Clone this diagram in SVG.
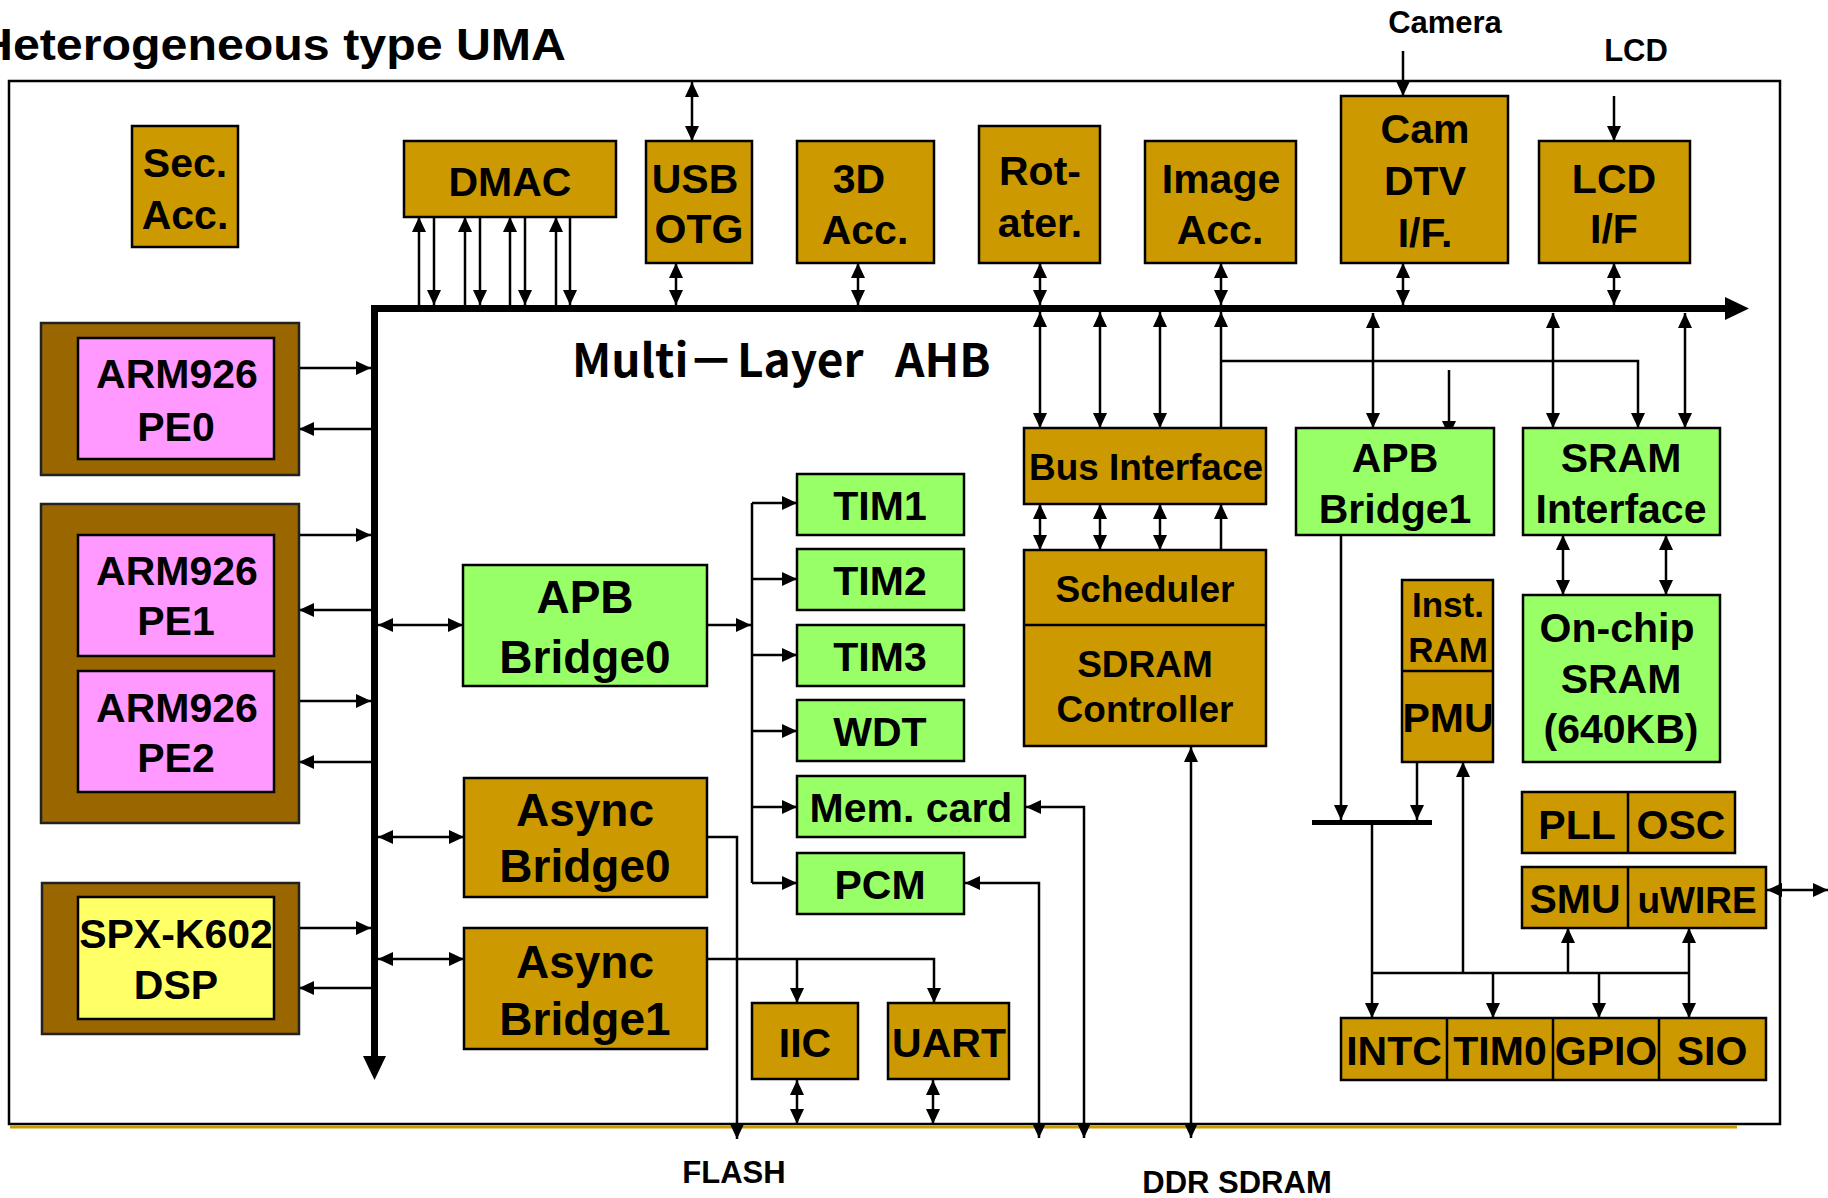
<svg xmlns="http://www.w3.org/2000/svg" width="1828" height="1198" viewBox="0 0 1828 1198">
<style>
.t{font-family:"Liberation Sans",Arial,Helvetica,sans-serif;font-weight:bold;text-anchor:middle;fill:#000}
.f41{font-size:41px}
.f46{font-size:46px}
.f37{font-size:37px}
.f35{font-size:35px}
.f31{font-size:31px}
.gold{fill:#CC9900;stroke:#000;stroke-width:2.5}
.green{fill:#99FF66;stroke:#000;stroke-width:2.5}
.pink{fill:#FF99FF;stroke:#000;stroke-width:2.5}
.brown{fill:#996600;stroke:#222;stroke-width:2.5}
.yellow{fill:#FFFF66;stroke:#000;stroke-width:2.5}
.dv{stroke:#000;stroke-width:2.5}
.c{fill:none;stroke:#000;stroke-width:2.5}
.a{marker-end:url(#ah)}
.d{marker-start:url(#ah);marker-end:url(#ah)}
.bus{fill:none;stroke:#000;stroke-width:7;stroke-linejoin:miter;marker-start:url(#bh);marker-end:url(#bh)}
</style>
<defs>
<marker id="ah" markerUnits="userSpaceOnUse" markerWidth="15" markerHeight="14" refX="15" refY="7" orient="auto-start-reverse" viewBox="0 0 15 14"><path d="M0,0 L15,7 L0,14 z" fill="#000"/></marker>
<marker id="bh" markerUnits="userSpaceOnUse" markerWidth="24" markerHeight="23" refX="0" refY="11.5" orient="auto-start-reverse" viewBox="0 0 24 23"><path d="M0,0 L24,11.5 L0,23 z" fill="#000"/></marker>
</defs>
<rect width="1828" height="1198" fill="#fff"/>
<g id="frame">
<rect x="9" y="81" width="1771" height="1043" fill="none" stroke="#000" stroke-width="2.5"/>
<line x1="10" y1="1127" x2="1737" y2="1127" stroke="#CC9900" stroke-width="3"/>
</g>
<text id="title" x="-22" y="60" font-family="Liberation Sans, Arial, sans-serif" font-weight="bold" font-size="44" textLength="588" lengthAdjust="spacingAndGlyphs">Heterogeneous type UMA</text>
<g id="labels" class="t f31">
<text x="1445" y="33">Camera</text>
<text x="1636" y="61">LCD</text>
<text x="734" y="1183">FLASH</text>
<text x="1237" y="1193">DDR SDRAM</text>
</g>
<text id="bus-label" y="377" font-family="'Noto Sans CJK JP', 'Noto Sans', sans-serif" font-weight="bold" font-size="46" fill="#000"><tspan x="572">Multi</tspan><tspan x="688">－</tspan><tspan x="737">Layer</tspan><tspan x="895">AHB</tspan></text>

<g id="connectors">
<path class="bus" d="M374.5,1056 L374.5,308.5 L1725,308.5"/>
<!-- DMAC -->
<line class="c a" x1="419" y1="305" x2="419" y2="217"/>
<line class="c a" x1="434" y1="217" x2="434" y2="305"/>
<line class="c a" x1="465" y1="305" x2="465" y2="217"/>
<line class="c a" x1="480" y1="217" x2="480" y2="305"/>
<line class="c a" x1="510" y1="305" x2="510" y2="217"/>
<line class="c a" x1="525" y1="217" x2="525" y2="305"/>
<line class="c a" x1="556" y1="305" x2="556" y2="217"/>
<line class="c a" x1="570" y1="217" x2="570" y2="305"/>
<!-- top row -->
<line class="c d" x1="692" y1="82" x2="692" y2="141"/>
<line class="c d" x1="676" y1="263" x2="676" y2="305"/>
<line class="c d" x1="858" y1="263" x2="858" y2="305"/>
<line class="c d" x1="1040" y1="263" x2="1040" y2="305"/>
<line class="c d" x1="1221" y1="263" x2="1221" y2="305"/>
<line class="c d" x1="1403" y1="263" x2="1403" y2="305"/>
<line class="c a" x1="1403" y1="51" x2="1403" y2="96"/>
<line class="c d" x1="1614" y1="263" x2="1614" y2="305"/>
<line class="c a" x1="1614" y1="96" x2="1614" y2="141"/>
<!-- below bus -->
<line class="c d" x1="1040" y1="312" x2="1040" y2="428"/>
<line class="c d" x1="1100" y1="312" x2="1100" y2="428"/>
<line class="c d" x1="1160" y1="312" x2="1160" y2="428"/>
<line class="c a" x1="1221" y1="428" x2="1221" y2="312"/>
<path class="c a" d="M1221,361 H1638 V428"/>
<line class="c d" x1="1373" y1="313" x2="1373" y2="428"/>
<line class="c a" x1="1449" y1="370" x2="1449" y2="436"/>
<line class="c d" x1="1553" y1="313" x2="1553" y2="428"/>
<line class="c d" x1="1685" y1="313" x2="1685" y2="428"/>
<line class="c d" x1="1040" y1="504" x2="1040" y2="550"/>
<line class="c d" x1="1100" y1="504" x2="1100" y2="550"/>
<line class="c d" x1="1160" y1="504" x2="1160" y2="550"/>
<line class="c a" x1="1221" y1="550" x2="1221" y2="504"/>
<line class="c d" x1="1563" y1="535" x2="1563" y2="595"/>
<line class="c d" x1="1666" y1="535" x2="1666" y2="595"/>
<!-- APB1 / PMU / peripherals -->
<line class="c a" x1="1341" y1="535" x2="1341" y2="820"/>
<line class="c a" x1="1417" y1="762" x2="1417" y2="820"/>
<line x1="1312" y1="822.5" x2="1432" y2="822.5" stroke="#000" stroke-width="5"/>
<line class="c a" x1="1372" y1="825" x2="1372" y2="1018"/>
<line class="c" x1="1372" y1="973" x2="1689" y2="973"/>
<line class="c a" x1="1463" y1="973" x2="1463" y2="762"/>
<line class="c a" x1="1493" y1="973" x2="1493" y2="1018"/>
<line class="c a" x1="1599" y1="973" x2="1599" y2="1018"/>
<line class="c a" x1="1568" y1="973" x2="1568" y2="928"/>
<line class="c d" x1="1689" y1="928" x2="1689" y2="1018"/>
<line class="c d" x1="1767" y1="890" x2="1828" y2="890"/>
<!-- left side -->
<line class="c a" x1="299" y1="368" x2="371" y2="368"/>
<line class="c a" x1="371" y1="429" x2="299" y2="429"/>
<line class="c a" x1="299" y1="535" x2="371" y2="535"/>
<line class="c a" x1="371" y1="610" x2="299" y2="610"/>
<line class="c a" x1="299" y1="701" x2="371" y2="701"/>
<line class="c a" x1="371" y1="762" x2="299" y2="762"/>
<line class="c a" x1="299" y1="928" x2="371" y2="928"/>
<line class="c a" x1="371" y1="988" x2="299" y2="988"/>
<line class="c d" x1="378" y1="625" x2="463" y2="625"/>
<line class="c d" x1="378" y1="837" x2="464" y2="837"/>
<line class="c d" x1="378" y1="959" x2="464" y2="959"/>
<!-- APB0 tree -->
<line class="c a" x1="707" y1="625" x2="751" y2="625"/>
<line class="c" x1="752" y1="503" x2="752" y2="883"/>
<line class="c a" x1="752" y1="503" x2="797" y2="503"/>
<line class="c a" x1="752" y1="579" x2="797" y2="579"/>
<line class="c a" x1="752" y1="655" x2="797" y2="655"/>
<line class="c a" x1="752" y1="731" x2="797" y2="731"/>
<line class="c a" x1="752" y1="807" x2="797" y2="807"/>
<line class="c a" x1="752" y1="883" x2="797" y2="883"/>
<!-- bottom -->
<path class="c a" d="M707,837 H737 V1139"/>
<path class="c a" d="M707,959 H934 V1003"/>
<line class="c a" x1="797" y1="959" x2="797" y2="1003"/>
<line class="c d" x1="797" y1="1080" x2="797" y2="1124"/>
<line class="c d" x1="933" y1="1080" x2="933" y2="1124"/>
<path class="c d" d="M1084,1138 V807 H1026"/>
<path class="c d" d="M1039,1138 V883 H965"/>
<line class="c d" x1="1191" y1="1138" x2="1191" y2="747"/>
</g>

<g id="n-sec"><rect class="gold" x="132" y="126" width="106" height="121"/><text class="t f41" x="185" y="177">Sec.</text><text class="t f41" x="185" y="229">Acc.</text></g>
<g id="n-dmac"><rect class="gold" x="404" y="141" width="212" height="76"/><text class="t f41" x="510" y="196">DMAC</text></g>
<g id="n-usb"><rect class="gold" x="646" y="141" width="106" height="122"/><text class="t f41" x="695" y="193">USB</text><text class="t f41" x="699" y="243">OTG</text></g>
<g id="n-3d"><rect class="gold" x="797" y="141" width="137" height="122"/><text class="t f41" x="859" y="193">3D</text><text class="t f41" x="865" y="244">Acc.</text></g>
<g id="n-rot"><rect class="gold" x="979" y="126" width="121" height="137"/><text class="t f41" x="1040" y="185">Rot-</text><text class="t f41" x="1040" y="237">ater.</text></g>
<g id="n-image"><rect class="gold" x="1145" y="141" width="151" height="122"/><text class="t f41" x="1221" y="193">Image</text><text class="t f41" x="1220" y="244">Acc.</text></g>
<g id="n-cam"><rect class="gold" x="1341" y="96" width="167" height="167"/><text class="t f41" x="1425" y="143">Cam</text><text class="t f41" x="1425" y="195">DTV</text><text class="t f41" x="1425" y="247">I/F.</text></g>
<g id="n-lcd"><rect class="gold" x="1539" y="141" width="151" height="122"/><text class="t f41" x="1614" y="193">LCD</text><text class="t f41" x="1614" y="243">I/F</text></g>

<g id="n-pe0"><rect class="brown" x="41" y="323" width="258" height="152"/><rect class="pink" x="78" y="338" width="196" height="121"/><text class="t f41" x="177" y="388">ARM926</text><text class="t f41" x="176" y="441">PE0</text></g>
<g id="n-pe12"><rect class="brown" x="41" y="504" width="258" height="319"/>
<g id="n-pe1"><rect class="pink" x="78" y="535" width="196" height="121"/><text class="t f41" x="177" y="585">ARM926</text><text class="t f41" x="176" y="635">PE1</text></g>
<g id="n-pe2"><rect class="pink" x="78" y="671" width="196" height="121"/><text class="t f41" x="177" y="722">ARM926</text><text class="t f41" x="176" y="772">PE2</text></g></g>
<g id="n-dsp"><rect class="brown" x="42" y="883" width="257" height="151"/><rect class="yellow" x="78" y="897" width="196" height="122"/><text class="t f41" x="176" y="948">SPX-K602</text><text class="t f41" x="176" y="999">DSP</text></g>

<g id="n-apb0"><rect class="green" x="463" y="565" width="244" height="121"/><text class="t f46" x="585" y="613">APB</text><text class="t f46" x="585" y="673">Bridge0</text></g>
<g id="n-async0"><rect class="gold" x="464" y="778" width="243" height="119"/><text class="t f46" x="585" y="826">Async</text><text class="t f46" x="585" y="882">Bridge0</text></g>
<g id="n-async1"><rect class="gold" x="464" y="928" width="243" height="121"/><text class="t f46" x="585" y="978">Async</text><text class="t f46" x="585" y="1035">Bridge1</text></g>

<g id="n-tim1"><rect class="green" x="797" y="474" width="167" height="61"/><text class="t f41" x="880" y="520">TIM1</text></g>
<g id="n-tim2"><rect class="green" x="797" y="549" width="167" height="61"/><text class="t f41" x="880" y="595">TIM2</text></g>
<g id="n-tim3"><rect class="green" x="797" y="625" width="167" height="61"/><text class="t f41" x="880" y="671">TIM3</text></g>
<g id="n-wdt"><rect class="green" x="797" y="700" width="167" height="61"/><text class="t f41" x="880" y="746">WDT</text></g>
<g id="n-mem"><rect class="green" x="797" y="776" width="228" height="61"/><text class="t f41" x="911" y="822">Mem. card</text></g>
<g id="n-pcm"><rect class="green" x="797" y="853" width="167" height="61"/><text class="t f41" x="880" y="899">PCM</text></g>
<g id="n-iic"><rect class="gold" x="752" y="1003" width="106" height="76"/><text class="t f41" x="805" y="1057">IIC</text></g>
<g id="n-uart"><rect class="gold" x="888" y="1003" width="121" height="76"/><text class="t f41" x="949" y="1057">UART</text></g>

<g id="n-busif"><rect class="gold" x="1024" y="428" width="242" height="76"/><text class="t f37" x="1146" y="480" textLength="234" lengthAdjust="spacingAndGlyphs">Bus Interface</text></g>
<g id="n-sdram"><rect class="gold" x="1024" y="550" width="242" height="196"/><line class="dv" x1="1024" y1="625" x2="1266" y2="625"/><text class="t f37" x="1145" y="602">Scheduler</text><text class="t f37" x="1145" y="677">SDRAM</text><text class="t f37" x="1145" y="722">Controller</text></g>

<g id="n-apb1"><rect class="green" x="1296" y="428" width="198" height="107"/><text class="t f41" x="1395" y="472">APB</text><text class="t f41" x="1395" y="523">Bridge1</text></g>
<g id="n-sramif"><rect class="green" x="1523" y="428" width="197" height="107"/><text class="t f41" x="1621" y="472">SRAM</text><text class="t f41" x="1621" y="523">Interface</text></g>
<g id="n-onchip"><rect class="green" x="1523" y="595" width="197" height="167"/><text class="t f41" x="1617" y="642">On-chip</text><text class="t f41" x="1621" y="693">SRAM</text><text class="t f41" x="1621" y="743">(640KB)</text></g>
<g id="n-instpmu"><rect class="gold" x="1402" y="580" width="91" height="182"/><line class="dv" x1="1402" y1="671" x2="1493" y2="671"/><text class="t f35" x="1448" y="617">Inst.</text><text class="t f35" x="1448" y="662">RAM</text><text class="t f41" x="1448" y="732">PMU</text></g>
<g id="n-pllosc"><rect class="gold" x="1522" y="792" width="213" height="61"/><line class="dv" x1="1628" y1="792" x2="1628" y2="853"/><text class="t f41" x="1577" y="839">PLL</text><text class="t f41" x="1681" y="839">OSC</text></g>
<g id="n-smu"><rect class="gold" x="1522" y="867" width="244" height="61"/><line class="dv" x1="1628" y1="867" x2="1628" y2="928"/><text class="t f41" x="1575" y="913">SMU</text><text class="t f37" x="1697" y="913">uWIRE</text></g>
<g id="n-periph"><rect class="gold" x="1341" y="1018" width="425" height="62"/><line class="dv" x1="1447" y1="1018" x2="1447" y2="1080"/><line class="dv" x1="1553" y1="1018" x2="1553" y2="1080"/><line class="dv" x1="1659" y1="1018" x2="1659" y2="1080"/><text class="t f41" x="1394" y="1065">INTC</text><text class="t f41" x="1500" y="1065">TIM0</text><text class="t f41" x="1606" y="1065">GPIO</text><text class="t f41" x="1712" y="1065">SIO</text></g>
</svg>
